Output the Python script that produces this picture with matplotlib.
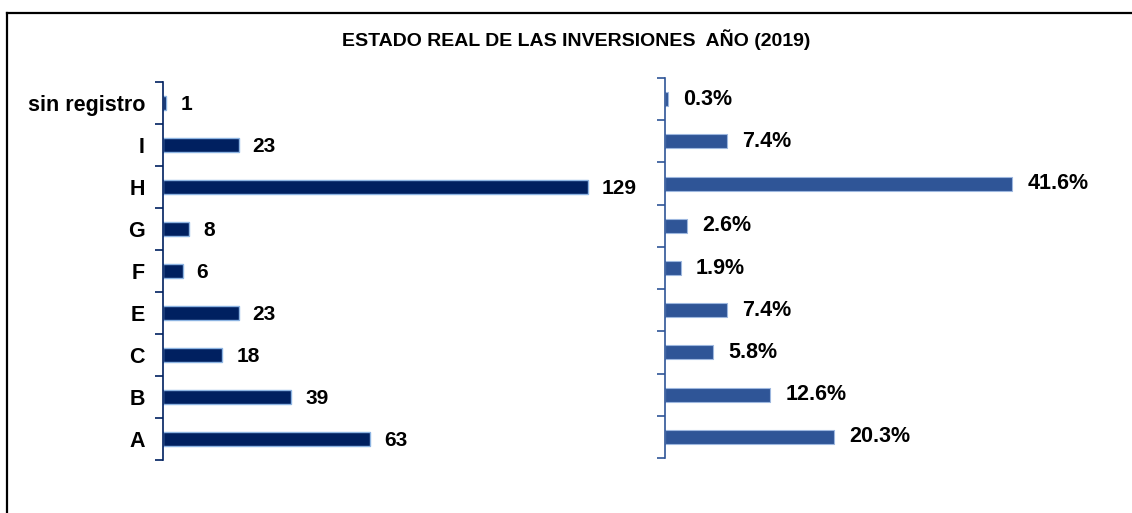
import matplotlib.pyplot as plt
from matplotlib.lines import Line2D

plt.rcParams["font.family"] = ["Liberation Sans", "DejaVu Sans"]
plt.rcParams["font.weight"] = "bold"

categories = ["A", "B", "C", "E", "F", "G", "H", "I", "sin registro"]
counts = [63, 39, 18, 23, 6, 8, 129, 23, 1]
percents = [20.3, 12.6, 5.8, 7.4, 1.9, 2.6, 41.6, 7.4, 0.3]

NAVY = "#002060"
BLUE = "#2F5597"


def setup_axis(ax, color):
    n = len(categories)
    ax.set_ylim(-0.5, n - 0.5)
    for side in ("top", "right", "bottom"):
        ax.spines[side].set_visible(False)
    ax.spines["left"].set_color(color)
    ax.spines["left"].set_linewidth(1.2)
    ax.set_xticks([])
    ax.set_yticks(range(n))
    ax.tick_params(axis="y", which="major", length=0, pad=13)
    ax.set_yticks([i - 0.5 for i in range(n + 1)], minor=True)
    ax.tick_params(axis="y", which="minor", length=6, width=1.2,
                   color=color, direction="out")


fig = plt.figure(figsize=(11.32, 5.13), dpi=100)

# left panel: counts
ax1 = fig.add_axes([163 / 1132, 53 / 513, 461 / 1132, 378 / 513])
ax1.barh(range(len(counts)), counts, height=0.33, color=NAVY,
         edgecolor="#8DB4E2", linewidth=1.0)
setup_axis(ax1, NAVY)
ax1.set_yticklabels(categories, fontsize=15.5, fontweight="bold")
ax1.set_xlim(0, 140)
for i, v in enumerate(counts):
    ax1.annotate(str(v), (v, i), xytext=(10, -1), textcoords="offset points",
                 va="center", ha="left", fontsize=15, fontweight="bold")

# right panel: percentages
ax2 = fig.add_axes([665 / 1132, 55 / 513, 417 / 1132, 380 / 513])
ax2.barh(range(len(percents)), percents, height=0.33, color=BLUE,
         edgecolor="#9DB7DF", linewidth=0.8)
setup_axis(ax2, BLUE)
ax2.set_yticklabels([])
ax2.set_xlim(0, 50)
for i, v in enumerate(percents):
    ax2.annotate(f"{v:.1f}%", (v, i), xytext=(11, 0), textcoords="offset points",
                 va="center", ha="left", fontsize=15.5, fontweight="bold")

fig.text(576 / 1132, 1 - 40 / 513, "ESTADO REAL DE LAS INVERSIONES  AÑO (2019)",
         ha="center", va="center", fontsize=14, fontweight="bold")

# frame lines along the top and left edge
fig.add_artist(Line2D([7 / 1132, 1], [1 - 13 / 513, 1 - 13 / 513],
                      transform=fig.transFigure, color="black", linewidth=1.6))
fig.add_artist(Line2D([7 / 1132, 7 / 1132], [0, 1 - 13 / 513],
                      transform=fig.transFigure, color="black", linewidth=1.6))

fig.savefig("out.png", dpi=100)
